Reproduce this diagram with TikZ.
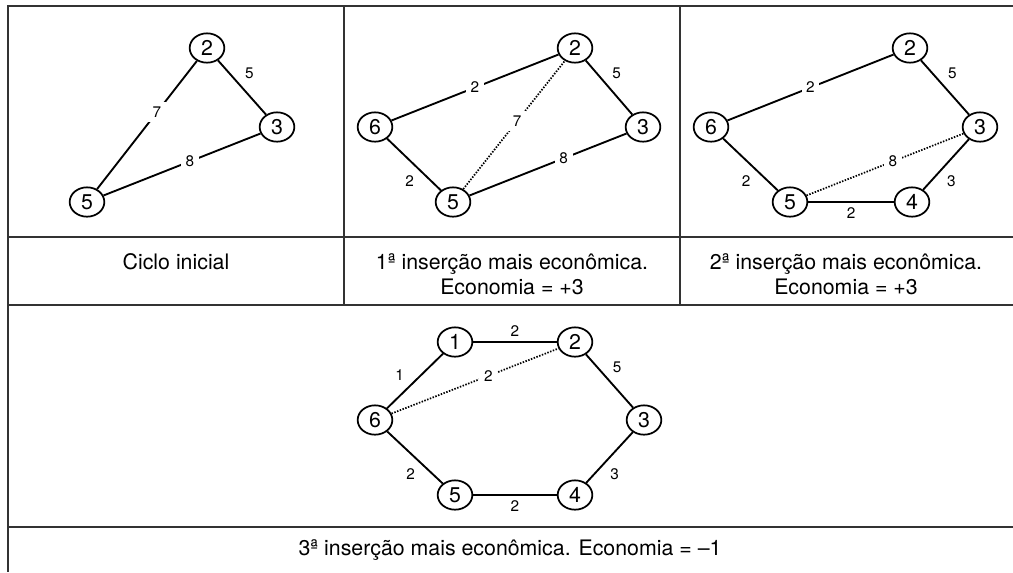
\documentclass[tikz,border=0pt]{standalone}
\usepackage{fontspec}
\setmainfont{TeX Gyre Heros}
\usetikzlibrary{shapes.geometric}

\begin{document}
\begin{tikzpicture}[
  x=0.75pt, y=-0.75pt,
  vertex/.style={ellipse, draw, line width=1.3pt, minimum width=26pt, minimum height=22pt, inner sep=0pt, font=\fontsize{16}{16}\selectfont},
  edge/.style={line width=1.4pt},
  skip/.style={line width=1.3pt, dash pattern=on 1.1pt off 1.1pt},
  wlbl/.style={fill=white, inner sep=3.5pt, font=\fontsize{11.5}{11.5}\selectfont},
  lbl/.style={inner sep=3.5pt, font=\fontsize{11.5}{11.5}\selectfont},
  caption/.style={font=\fontsize{16}{18.75}\selectfont, align=center},
  frame/.style={line width=1.5pt, black!80}
]
\useasboundingbox (0,0) rectangle (1013,572);

% Table frame
\draw[frame] (1013,6) -- (8,6) -- (8,572);
\draw[frame] (344,6) -- (344,305);
\draw[frame] (680,6) -- (680,305);
\foreach \y in {237,305,527}
  \draw[frame] (8,\y) -- (1013,\y);

% Captions
\node[caption] (cap1) at (176,262) {Ciclo inicial};
\node[caption] (cap2) at (512,274) {1ª inserção mais econômica.\\Economia = +3};
\node[caption] (cap3) at (846,274) {2ª inserção mais econômica.\\Economia = +3};
\node[caption] (cap4) at (510,550) {3ª inserção mais econômica. Economia = –1};

% Initial cycle
\node[vertex] (a2) at (207,48)  {2};
\node[vertex] (a3) at (277,127) {3};
\node[vertex] (a5) at (87,202)  {5};
\draw[edge] (a2) -- node[lbl, above right, pos=.45] {5} (a3);
\draw[edge] (a5) -- node[wlbl, pos=.6] {7} (a2);
\draw[edge] (a5) -- node[wlbl, pos=.55] {8} (a3);

% 1st insertion (node 6)
\node[vertex] (b2) at (575,48)  {2};
\node[vertex] (b3) at (643,127) {3};
\node[vertex] (b6) at (375,127) {6};
\node[vertex] (b5) at (453,202) {5};
\draw[edge] (b6) -- node[wlbl] {2} (b2);
\draw[edge] (b2) -- node[lbl, above right, pos=.45] {5} (b3);
\draw[edge] (b5) -- node[wlbl, pos=.6] {8} (b3);
\draw[edge] (b6) -- node[lbl, below left, pos=.6] {2} (b5);
\draw[skip] (b5) -- node[wlbl, pos=.53] {7} (b2);

% 2nd insertion (node 4)
\node[vertex] (c2) at (910,48)  {2};
\node[vertex] (c3) at (980,127) {3};
\node[vertex] (c6) at (711,127) {6};
\node[vertex] (c5) at (790,202) {5};
\node[vertex] (c4) at (912,202) {4};
\draw[edge] (c6) -- node[wlbl] {2} (c2);
\draw[edge] (c2) -- node[lbl, above right, pos=.45] {5} (c3);
\draw[edge] (c4) -- node[lbl, below right, pos=.4] {3} (c3);
\draw[edge] (c5) -- node[lbl, below] {2} (c4);
\draw[edge] (c6) -- node[lbl, below left, pos=.6] {2} (c5);
\draw[skip] (c5) -- node[wlbl, pos=.55] {8} (c3);

% 3rd insertion (node 1)
\node[vertex] (d1) at (455,342) {1};
\node[vertex] (d2) at (575,342) {2};
\node[vertex] (d3) at (644,420) {3};
\node[vertex] (d6) at (375,420) {6};
\node[vertex] (d5) at (455,495) {5};
\node[vertex] (d4) at (575,495) {4};
\draw[edge] (d1) -- node[lbl, above] {2} (d2);
\draw[edge] (d2) -- node[lbl, above right, pos=.45] {5} (d3);
\draw[edge] (d4) -- node[lbl, below right, pos=.4] {3} (d3);
\draw[edge] (d5) -- node[lbl, below] {2} (d4);
\draw[edge] (d6) -- node[lbl, below left, pos=.6] {2} (d5);
\draw[edge] (d6) -- node[lbl, above left, pos=.4] {1} (d1);
\draw[skip] (d6) -- node[wlbl, pos=.58] {2} (d2);

\end{tikzpicture}
\end{document}
